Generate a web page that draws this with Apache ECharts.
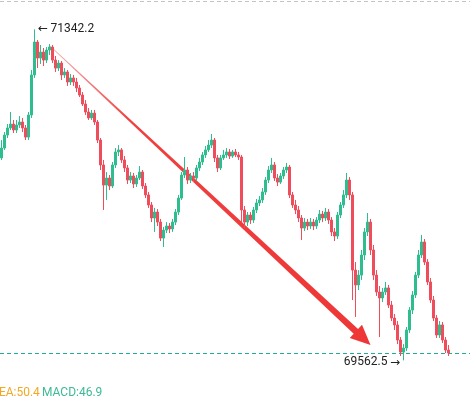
<!DOCTYPE html>
<html><head><meta charset="utf-8">
<script src="https://cdn.jsdelivr.net/npm/echarts@6/dist/echarts.min.js"></script>
<style>html,body{margin:0;padding:0;background:#fff;overflow:hidden}#c{width:470px;height:399px}</style>
</head><body><div id="c"></div><script>
// ---- data ----
const opens = [
70651,70704,70774,70812,70833,70801,70828,70844,70812,70763,
70882,71097,71274,71188,71220,71177,71231,71247,71177,71134,
71161,71097,71113,71059,71081,71059,71027,70989,70941,70898,
70866,70892,70844,70747,70613,70505,70543,70500,70613,70683,
70694,70640,70597,70532,70554,70511,70543,70575,70500,70452,
70398,70328,70360,70306,70220,70263,70285,70269,70306,70360,
70435,70559,70586,70532,70554,70543,70597,70629,70667,70694,
70720,70747,70651,70597,70651,70667,70683,70661,70683,70667,
70656,70371,70306,70344,70317,70371,70409,70425,70468,70532,
70586,70613,70543,70521,70554,70586,70602,70452,70398,70371,
70328,70274,70306,70285,70306,70285,70317,70349,70328,70360,
70317,70253,70231,70344,70398,70452,70532,70452,70048,69968,
70021,70129,70253,70306,70156,70021,69930,69898,69930,69952,
69860,69790,69753,69672,69607,69629,69726,69833,69914,70021,
70129,70199,70091,69984,69887,69790,69699,69753,69672,69618];
const closes = [
70704,70774,70812,70833,70801,70828,70844,70812,70763,70882,
71097,71274,71188,71220,71177,71231,71247,71177,71134,71161,
71097,71113,71059,71081,71059,71027,70989,70941,70898,70866,
70892,70844,70747,70613,70505,70543,70500,70613,70683,70694,
70640,70597,70532,70554,70511,70543,70575,70500,70452,70398,
70328,70360,70306,70220,70263,70285,70269,70306,70360,70435,
70559,70586,70532,70554,70543,70597,70629,70667,70694,70720,
70747,70651,70597,70651,70667,70683,70661,70683,70667,70656,
70371,70306,70344,70317,70371,70409,70425,70468,70532,70586,
70613,70543,70521,70554,70586,70602,70452,70398,70371,70328,
70274,70306,70285,70306,70285,70317,70349,70328,70360,70317,
70253,70231,70344,70398,70452,70532,70452,70048,69968,70021,
70129,70253,70306,70156,70021,69930,69898,69930,69952,69860,
69790,69753,69672,69607,69629,69726,69833,69914,70021,70129,
70199,70091,69984,69887,69790,69699,69753,69672,69618,69602];
const lows = [
70640,70694,70758,70801,70785,70785,70812,70790,70747,70747,
70866,71081,71134,71156,71145,71161,71204,71161,71113,71118,
71070,71081,71038,71043,71038,71005,70978,70930,70882,70855,
70855,70828,70731,70586,70371,70425,70478,70489,70597,70661,
70624,70575,70511,70516,70489,70495,70532,70484,70435,70382,
70306,70253,70285,70204,70172,70247,70247,70253,70290,70344,
70425,70543,70511,70516,70521,70527,70581,70613,70651,70683,
70704,70629,70575,70586,70640,70651,70645,70651,70656,70640,
70306,70274,70285,70296,70301,70355,70392,70409,70452,70516,
70570,70527,70500,70511,70538,70570,70435,70382,70349,70306,
70210,70258,70263,70269,70263,70269,70301,70306,70312,70296,
70231,70204,70215,70328,70382,70435,70425,69887,69796,69941,
69995,70102,70231,70129,69995,69909,69688,69876,69914,69844,
69774,69726,69650,69586,69562.5,69613,69710,69812,69898,70005,
70113,70075,69968,69871,69774,69683,69683,69656,69602,69586];
const highs = [
70747,70790,70833,70898,70855,70855,70876,70866,70828,70898,
71124,71342.2,71285,71258,71242,71247,71263,71258,71199,71177,
71172,71134,71124,71102,71097,71081,71043,71005,70962,70919,
70909,70909,70855,70758,70640,70575,70559,70629,70704,70720,
70704,70661,70613,70575,70570,70559,70607,70586,70516,70468,
70414,70382,70376,70323,70280,70306,70301,70323,70376,70452,
70575,70656,70602,70570,70575,70613,70651,70683,70715,70747,
70780,70758,70667,70667,70694,70704,70699,70694,70699,70683,
70667,70392,70360,70360,70387,70430,70446,70489,70548,70607,
70651,70629,70564,70570,70602,70624,70613,70468,70425,70392,
70344,70328,70323,70328,70323,70333,70371,70366,70382,70376,
70333,70274,70360,70414,70478,70570,70548,70468,70091,70048,
70156,70274,70355,70323,70183,70048,69962,69952,69984,69968,
69882,69812,69774,69688,69650,69742,69849,69935,70038,70156,
70237,70215,70107,70005,69909,69806,69774,69769,69688,69645];
const categories = opens.map((_, i) => 'K' + (i + 1));
const arrowFrom = { index: 16, price: 71255 };
const arrowTo = { index: 123, price: 69645 };
const indicatorLabels = ['DEA:50.4', 'MACD:46.9'];

// ---- chart ----
const UP = '#2ebd8f', DOWN = '#ef4d5c';
const chart = echarts.init(document.getElementById('c'), null, { renderer: 'canvas' });
const ohlc = opens.map((o, i) => [o, closes[i], lows[i], highs[i]]);
const maxHigh = Math.max(...highs), iMax = highs.indexOf(maxHigh);
const minLow = Math.min(...lows), iMin = lows.indexOf(minLow);
const lastClose = closes[closes.length - 1];
const arrowRich = { ar: { fontFamily: 'DejaVu Sans', fontSize: 12, color: '#222' }, v: { fontFamily: 'Roboto', fontSize: 12, color: '#222' } };

chart.setOption({
  animation: false,
  grid: { left: 0, right: 20, top: 0, bottom: 19 },
  xAxis: { type: 'category', data: categories, show: false, boundaryGap: true },
  yAxis: { type: 'value', min: 69457, max: 71500, show: false },
  series: [{
    type: 'candlestick', data: ohlc, barWidth: 1.6,
    itemStyle: { color: UP, color0: DOWN, borderColor: UP, borderColor0: DOWN, borderWidth: 1 },
    markPoint: {
      symbol: 'circle', symbolSize: 1, itemStyle: { color: 'rgba(0,0,0,0)' },
      label: { show: true, color: '#222', fontSize: 12, fontFamily: 'Roboto', distance: 3, rich: arrowRich },
      data: [
        { coord: [categories[iMax], maxHigh], value: maxHigh,
          label: { position: 'right', formatter: p => '{ar|←}{v|\u2009' + p.value + '}' } },
        { coord: [categories[iMin], minLow], value: minLow,
          label: { position: 'left', offset: [0, 2], formatter: p => '{v|' + p.value + '\u2009}{ar|→}' } }
      ]
    }
  }]
});

const p0 = chart.convertToPixel({ seriesIndex: 0 }, [categories[arrowFrom.index], arrowFrom.price]);
const p1 = chart.convertToPixel({ seriesIndex: 0 }, [categories[arrowTo.index], arrowTo.price]);
const yLast = chart.convertToPixel({ seriesIndex: 0 }, [categories[0], lastClose])[1];
const dx = p1[0] - p0[0], dy = p1[1] - p0[1], len = Math.hypot(dx, dy);
const ux = dx / len, uy = dy / len, nx = -uy, ny = ux;
const headLen = 20, headHalf = 9, w0 = 0.4, w1 = 3.2;
const sx = p1[0] - ux * headLen, sy = p1[1] - uy * headLen;
const pts = [
  [p0[0] + nx * w0, p0[1] + ny * w0],
  [sx + nx * w1, sy + ny * w1],
  [sx + nx * headHalf, sy + ny * headHalf],
  [p1[0], p1[1]],
  [sx - nx * headHalf, sy - ny * headHalf],
  [sx - nx * w1, sy - ny * w1],
  [p0[0] - nx * w0, p0[1] - ny * w0]
];
const W = chart.getWidth();
chart.setOption({
  graphic: [
    { type: 'line', silent: true, shape: { x1: 0, y1: 1.5, x2: W, y2: 1.5 },
      style: { stroke: '#c4c4c4', lineWidth: 1, lineDash: [4, 3] } },
    { type: 'line', silent: true, shape: { x1: 0, y1: Math.round(yLast) + 0.5, x2: W, y2: Math.round(yLast) + 0.5 },
      style: { stroke: '#1fae94', lineWidth: 1, lineDash: [4, 3] } },
    { type: 'polygon', silent: true, shape: { points: pts },
      style: { fill: { type: 'linear', x: p0[0], y: p0[1], x2: p1[0], y2: p1[1], global: true,
        colorStops: [{ offset: 0, color: 'rgba(240,80,80,0.45)' }, { offset: 0.25, color: '#f04040' }, { offset: 1, color: '#ee3636' }] } } },
    { type: 'text', silent: true, x: -9, y: 387,
      style: { text: indicatorLabels[0], fill: '#f2a824', font: '12px Roboto' } },
    { type: 'text', silent: true, x: 42, y: 387,
      style: { text: indicatorLabels[1], fill: '#3dba96', font: '12px Roboto' } }
  ]
});
</script></body></html>
